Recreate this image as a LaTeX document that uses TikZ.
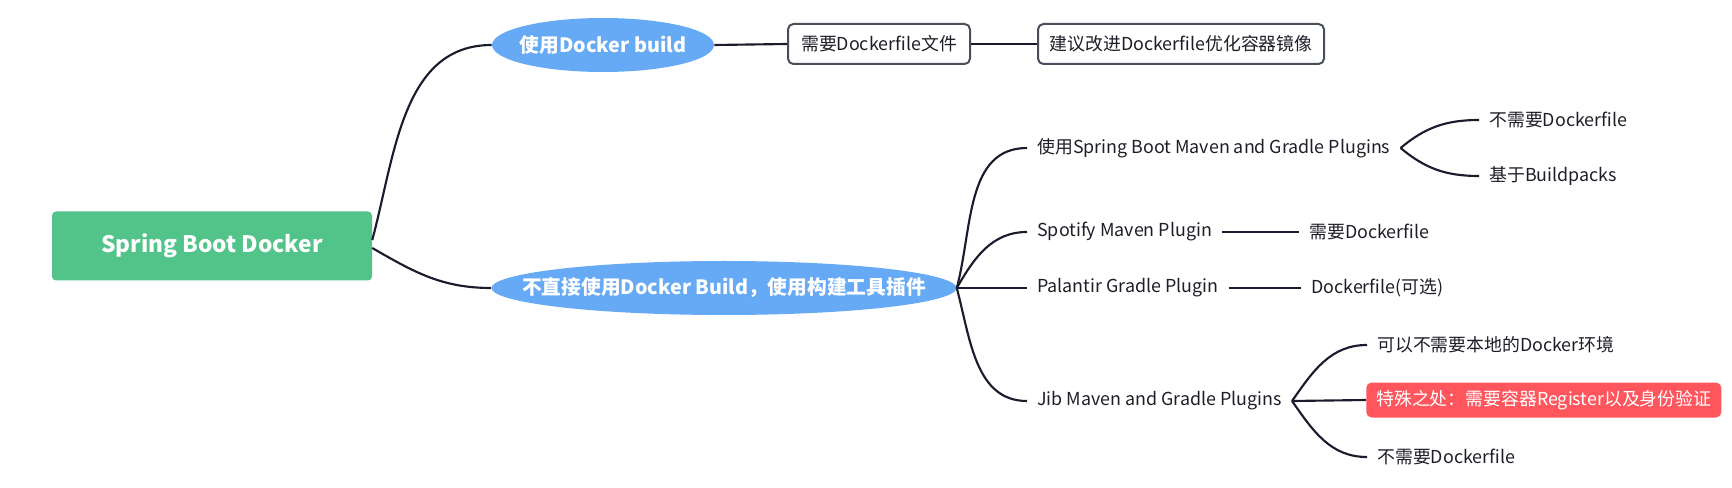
\documentclass[tikz,border=0pt]{standalone}
\usepackage{fontspec}
\setmainfont{Noto Sans CJK SC}
\usetikzlibrary{shapes.geometric}
\definecolor{rootgreen}{RGB}{82,196,138}
\definecolor{bubbleblue}{RGB}{102,170,245}
\definecolor{alertred}{RGB}{255,86,94}
\definecolor{edgeink}{RGB}{28,27,46}
\definecolor{boxgray}{RGB}{72,78,90}
\definecolor{textink}{RGB}{30,30,40}
\begin{document}
\begin{tikzpicture}[
		x=0.75pt, y=-0.75pt,
		every node/.style={font=\fontsize{13.4}{16}\selectfont, text=textink},
		topic/.style={rectangle, rounded corners=3pt, fill=rootgreen, text=white, font=\fontsize{17}{20}\selectfont\bfseries, minimum width=240pt, minimum height=51.75pt},
		bubble/.style={ellipse, fill=bubbleblue, text=white, font=\fontsize{14.8}{17}\selectfont\bfseries, inner xsep=-100pt, inner ysep=-20pt, minimum height=40.5pt},
		note/.style={rectangle, rounded corners=4pt, draw=boxgray, line width=1.5pt, fill=white, minimum height=30pt},
		leaf/.style={anchor=west, inner xsep=7.5pt, inner ysep=2pt},
		alert/.style={leaf, rounded corners=4pt, fill=alertred, text=white, minimum height=26.25pt},
		branch/.style={draw=edgeink, line width=1.6pt}
	]
	\useasboundingbox (0,0) rectangle (1732,488);

	% main topic and first level
	\node[topic] (root) at (212,246) {Spring Boot Docker};
	\node[bubble, minimum width=166.5pt] (build) at (603,45) {使用Docker build};
	\node[bubble, minimum width=348.75pt] (indirect) at (724,288) {不直接使用Docker Build，使用构建工具插件};

	% docker build branch
	\node[note, minimum width=136.5pt] (needfile) at (879,44) {需要Dockerfile文件};
	\node[note, minimum width=214.5pt] (advice) at (1181,44) {建议改进Dockerfile优化容器镜像};

	% build tool plugins
	\node[leaf] (spring) at (1027,148) {使用Spring Boot Maven and Gradle Plugins};
	\node[leaf] (nofile1) at (1479,120) {不需要Dockerfile};
	\node[leaf] (buildpacks) at (1479,176) {基于Buildpacks};
	\node[leaf] (spotify) at (1027,232) {Spotify Maven Plugin};
	\node[leaf] (needdf) at (1299,232) {需要Dockerfile};
	\node[leaf] (palantir) at (1027,288) {Palantir Gradle Plugin};
	\node[leaf] (optional) at (1301,288) {Dockerfile(可选)};
	\node[leaf] (jib) at (1027,401) {Jib Maven and Gradle Plugins};
	\node[leaf] (local) at (1367,345) {可以不需要本地的Docker环境};
	\node[alert] (special) at (1366,400) {特殊之处：需要容器Register以及身份验证};
	\node[leaf] (nofile2) at (1367,457) {不需要Dockerfile};

	\draw[branch] ([yshift=4.5pt]root.east) to[out=75,in=180] (build.west);
	\draw[branch] ([yshift=-1.5pt]root.east) to[out=-30,in=180] (indirect.west);
	\draw[branch] (build.east) -- (needfile.west);
	\draw[branch] (needfile.east) -- (advice.west);

	\draw[branch] (indirect.east) to[out=75,in=180] (spring.west);
	\draw[branch] (indirect.east) to[out=60,in=180] (spotify.west);
	\draw[branch] (indirect.east) -- (palantir.west);
	\draw[branch] (indirect.east) to[out=-75,in=180] (jib.west);

	\draw[branch] (spring.east) to[out=40,in=180] (nofile1.west);
	\draw[branch] (spring.east) to[out=-40,in=180] (buildpacks.west);
	\draw[branch] (spotify.east) -- (needdf.west);
	\draw[branch] (palantir.east) -- (optional.west);
	\draw[branch] (jib.east) to[out=55,in=180] (local.west);
	\draw[branch] (jib.east) -- (special.west);
	\draw[branch] (jib.east) to[out=-55,in=180] (nofile2.west);
\end{tikzpicture}
\end{document}
